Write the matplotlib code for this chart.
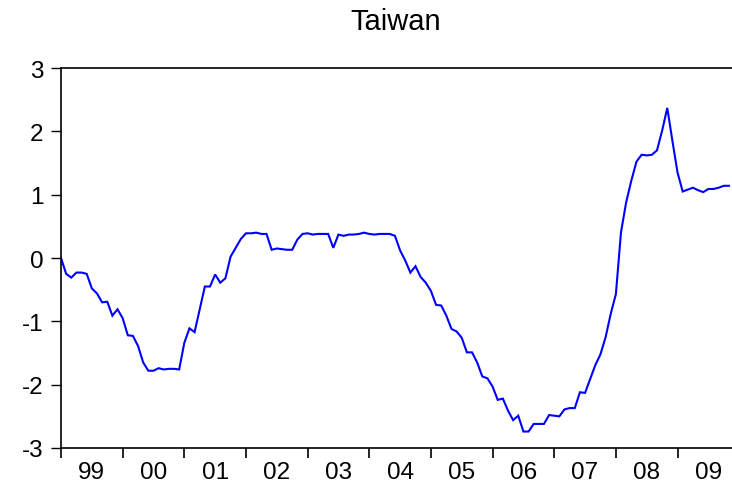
import matplotlib
matplotlib.use("Agg")
import matplotlib.pyplot as plt
import numpy as np

title = "Taiwan"
year_labels = ["99", "00", "01", "02", "03", "04", "05", "06", "07", "08", "09"]
y_ticks = [-3, -2, -1, 0, 1, 2, 3]

# Monthly values, 1999M01 .. 2009M11
values = [
    0.00, -0.25, -0.31, -0.23, -0.23, -0.25, -0.48, -0.56, -0.70, -0.69, -0.91, -0.81,   # 1999
    -0.95, -1.22, -1.23, -1.39, -1.65, -1.78, -1.78, -1.74, -1.76, -1.75, -1.75, -1.76,  # 2000
    -1.34, -1.11, -1.17, -0.81, -0.45, -0.45, -0.26, -0.39, -0.32, 0.02, 0.16, 0.30,     # 2001
    0.39, 0.39, 0.40, 0.38, 0.38, 0.13, 0.15, 0.14, 0.13, 0.13, 0.29, 0.38,              # 2002
    0.39, 0.37, 0.38, 0.38, 0.38, 0.16, 0.37, 0.35, 0.37, 0.37, 0.38, 0.40,              # 2003
    0.38, 0.37, 0.38, 0.38, 0.38, 0.35, 0.12, -0.04, -0.23, -0.13, -0.30, -0.39,         # 2004
    -0.52, -0.74, -0.75, -0.91, -1.12, -1.16, -1.26, -1.49, -1.49, -1.65, -1.87, -1.90,  # 2005
    -2.03, -2.24, -2.22, -2.41, -2.56, -2.49, -2.74, -2.74, -2.62, -2.62, -2.62, -2.48,  # 2006
    -2.49, -2.50, -2.39, -2.37, -2.37, -2.12, -2.13, -1.91, -1.69, -1.52, -1.25, -0.88,  # 2007
    -0.57, 0.41, 0.88, 1.22, 1.52, 1.63, 1.62, 1.63, 1.70, 2.01, 2.37, 1.85,             # 2008
    1.35, 1.05, 1.08, 1.11, 1.07, 1.04, 1.09, 1.09, 1.11, 1.14, 1.14,                    # 2009
]

plt.rcParams['font.family'] = ['Liberation Sans', 'DejaVu Sans']

W, H = 732, 485
fig = plt.figure(figsize=(W / 100, H / 100), dpi=100)
left = 61 / W
bottom = (H - 449) / H
top = (H - 69) / H
ax = fig.add_axes([left, bottom, 1.0 - left, top - bottom])

x = np.arange(len(values))
ax.plot(x, values, color=(0, 0, 1), lw=1.5, solid_joinstyle='miter')

ax.set_xlim(0, 130.6)
ax.set_ylim(-3, 3)

ax.set_yticks(y_ticks)
ax.set_yticklabels([str(v) for v in y_ticks])
ax.tick_params(axis='y', direction='out', length=7.5, width=1, pad=5,
               labelsize=17.5, colors='black')

year_starts = np.arange(len(year_labels)) * 12
ax.set_xticks(year_starts)
ax.set_xticklabels([])
ax.set_xticks(year_starts + 6, minor=True)
ax.set_xticklabels(year_labels, minor=True)
ax.tick_params(axis='x', which='major', direction='out', length=7.5, width=1.2)
ax.tick_params(axis='x', which='minor', length=0, pad=9.5, labelsize=17.5)

for s in ['left', 'bottom', 'top']:
    ax.spines[s].set_linewidth(1.2)
    ax.spines[s].set_color('black')
ax.spines['right'].set_visible(False)

fig.text(396 / W, 1 - 22 / H, title, ha='center', va='center', fontsize=21)

fig.savefig("out.png", dpi=100)
